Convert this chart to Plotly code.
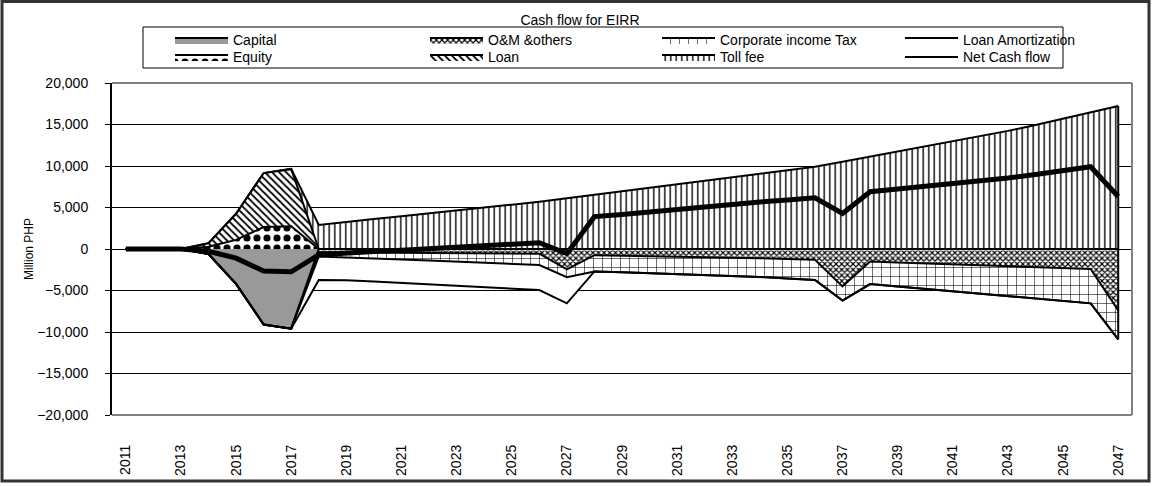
import plotly.graph_objects as go

# ---- data (Million PHP) ----
years = list(range(2011, 2048))
tick_years = years[::2]
tick_labels = [str(y) for y in tick_years]

capital = [0, 0, 0, -600, -4200, -9100, -9600,
           0, 0, 0, 0, 0, 0, 0, 0, 0, 0,
           0, 0, 0, 0, 0, 0, 0, 0, 0, 0,
           0, 0, 0, 0, 0, 0, 0, 0, 0, 0]
om_others = [0, 0, 0, 0, 0, 0, 0,
             -400, -420, -440, -460, -480, -500, -520, -540, -560, -2450,
             -750, -800, -850, -900, -950, -1000, -1100, -1200, -1300, -4500,
             -1500, -1620, -1730, -1850, -1960, -2070, -2180, -2290, -2400, -7400]
income_tax = [0, 0, 0, 0, 0, 0, 0,
              -500, -580, -690, -810, -920, -1030, -1150, -1260, -1370, -950,
              -1950, -2000, -2050, -2100, -2150, -2200, -2270, -2350, -2430, -1720,
              -2720, -2890, -3070, -3240, -3420, -3600, -3780, -3960, -4150, -3500]
loan_amortization = [0, 0, 0, 0, 0, 0, 0,
                     -2830, -2750, -2790, -2820, -2860, -2900, -2940, -2980, -3020, -3150,
                     0, 0, 0, 0, 0, 0, 0, 0, 0, 0,
                     0, 0, 0, 0, 0, 0, 0, 0, 0, 0]
equity = [0, 0, 0, 280, 1100, 2650, 2750,
          0, 0, 0, 0, 0, 0, 0, 0, 0, 0,
          0, 0, 0, 0, 0, 0, 0, 0, 0, 0,
          0, 0, 0, 0, 0, 0, 0, 0, 0, 0]
loan = [0, 0, 0, 420, 3150, 6500, 6900,
        0, 0, 0, 0, 0, 0, 0, 0, 0, 0,
        0, 0, 0, 0, 0, 0, 0, 0, 0, 0,
        0, 0, 0, 0, 0, 0, 0, 0, 0, 0]
toll_fee = [0, 0, 0, 0, 0, 0, 0,
            2890, 3290, 3620, 3950, 4280, 4630, 4980, 5340, 5700, 6120,
            6540, 6960, 7390, 7810, 8230, 8600, 9030, 9460, 9900, 10510,
            11120, 11740, 12340, 12940, 13530, 14230, 14940, 15700, 16460, 17230]
net_cash_flow = [0, 0, 0, -280, -1100, -2650, -2750,
                 -700, -460, -300, -140, 20, 200, 370, 560, 750, -550,
                 3900, 4160, 4490, 4810, 5130, 5400, 5660, 5910, 6170, 4290,
                 6900, 7230, 7540, 7850, 8150, 8560, 8980, 9450, 9910, 6330]

outflows = [("Capital", capital), ("O&M &others", om_others),
            ("Corporate income Tax", income_tax), ("Loan Amortization", loan_amortization)]
inflows = [("Equity", equity), ("Loan", loan), ("Toll fee", toll_fee)]

# ---- page geometry ----
W, H = 1157, 486
ML, MR, MT, MB = 112, 25, 83, 71
PW, PH = W - ML - MR, H - MT - MB


def fx(px):
    return (px - ML) / PW


def fy(py):
    return (H - MB - py) / PH


FONT = "Liberation Sans, Arial, sans-serif"
COL_WIDTHS = [187, 164, 175, 175]   # legend column text widths


def pattern(shape, size, solidity):
    return dict(shape=shape, size=size, solidity=solidity, fgcolor="black",
                bgcolor="white", fillmode="replace")


styles = {
    "Capital": dict(fillcolor="#999999"),
    "O&M &others": dict(fp=pattern("x", 4, 0.5)),
    "Corporate income Tax": dict(fp=pattern("+", 9, 0.12)),
    "Loan Amortization": dict(),
    "Equity": dict(fp=pattern(".", 10, 0.4)),
    "Loan": dict(fp=pattern("\\", 5, 0.35)),
    "Toll fee": dict(fp=pattern("|", 5.5, 0.25)),
}


def area(name, values, group, legend, col):
    st = styles[name]
    return go.Scatter(x=years, y=values, name=name, mode="lines", stackgroup=group,
                      line=dict(color="black", width=2),
                      fillcolor=st.get("fillcolor", "white"),
                      fillpattern=st.get("fp"), legend=legend,
                      legendwidth=COL_WIDTHS[col])


fig = go.Figure()
# outflows stack downward from zero, inflows upward
for i, (name, vals) in enumerate(outflows):
    fig.add_trace(area(name, vals, "out", "legend", i))
for i, (name, vals) in enumerate(inflows):
    fig.add_trace(area(name, vals, "in", "legend2", i))

# closing edge of the stacked areas at the last year
last_low = sum(v[-1] for _, v in outflows)
last_high = sum(v[-1] for _, v in inflows)
fig.add_trace(go.Scatter(x=[years[-1], years[-1]], y=[last_low, last_high], mode="lines",
                         line=dict(color="black", width=2), showlegend=False,
                         hoverinfo="skip"))

# net cash flow line
fig.add_trace(go.Scatter(x=years, y=net_cash_flow, mode="lines", name="Net Cash flow",
                         line=dict(color="black", width=5), showlegend=False))
fig.add_trace(go.Scatter(x=[None], y=[None], mode="lines", name="Net Cash flow",
                         line=dict(color="black", width=2), legend="legend2",
                         legendwidth=COL_WIDTHS[3]))

legend_common = dict(orientation="h", xanchor="left", yanchor="top", x=fx(170),
                     entrywidthmode="pixels", itemwidth=53,
                     traceorder="normal",
                     bgcolor="rgba(0,0,0,0)", borderwidth=0,
                     font=dict(family=FONT, size=14, color="black"))

fig.update_layout(
    width=W, height=H,
    margin=dict(l=ML, r=MR, t=MT, b=MB, autoexpand=False),
    paper_bgcolor="white", plot_bgcolor="white",
    font=dict(family=FONT, size=14, color="black"),
    title=dict(text="Cash flow for EIRR", x=580 / W, xanchor="center", xref="container",
               y=1 - 20 / H, yanchor="middle", yref="container",
               font=dict(family=FONT, size=14, color="black")),
    showlegend=True,
    legend=dict(legend_common, y=fy(24.4)),
    legend2=dict(legend_common, y=fy(41.4)),
    xaxis=dict(range=[2010.5, 2047.5], tickvals=tick_years, ticktext=tick_labels,
               tickangle=-90, ticks="", showgrid=False, zeroline=False, showline=False,
               tickfont=dict(size=14), ticklabelstandoff=26),
    xaxis2=dict(overlaying="x", anchor="free", position=0.5, side="top",
                range=[2010.5, 2047.5], tickvals=[y + 0.5 for y in years[:-1]],
                ticks="outside", ticklen=4, tickcolor="black", tickwidth=1,
                showticklabels=False, showgrid=False, zeroline=False, showline=False),
    yaxis=dict(range=[-20000, 20000], tickvals=list(range(-20000, 20001, 5000)),
               tickformat=",", showgrid=True, gridcolor="black", gridwidth=1,
               zeroline=True, zerolinecolor="black", zerolinewidth=1,
               showline=True, linecolor="black", linewidth=2,
               ticks="outside", ticklen=5, tickcolor="black",
               tickfont=dict(size=14), ticklabelstandoff=14),
    shapes=[
        # legend frame
        dict(type="rect", xref="paper", yref="paper", x0=fx(143), x1=fx(1063),
             y0=fy(68), y1=fy(27), line=dict(color="black", width=1),
             fillcolor="white", layer="above"),
        # plot-area frame (top, right, bottom)
        dict(type="line", xref="paper", yref="paper", x0=0, x1=1, y0=1, y1=1,
             line=dict(color="#808080", width=2), layer="above"),
        dict(type="line", xref="paper", yref="paper", x0=1, x1=1, y0=0, y1=1,
             line=dict(color="#808080", width=2), layer="above"),
        dict(type="line", xref="paper", yref="paper", x0=0, x1=1, y0=0, y1=0,
             line=dict(color="#808080", width=2), layer="above"),
        # chart frame
        dict(type="rect", xref="paper", yref="paper", x0=fx(2), x1=fx(1149),
             y0=fy(481), y1=fy(1.5), line=dict(color="#333333", width=3), layer="above"),
    ],
    annotations=[
        dict(text="Million PHP", x=fx(29), y=0.5, xref="paper", yref="paper",
             textangle=-90, showarrow=False, xanchor="center", yanchor="middle",
             font=dict(family=FONT, size=12, color="black")),
    ],
)

fig.write_html("out.html")
